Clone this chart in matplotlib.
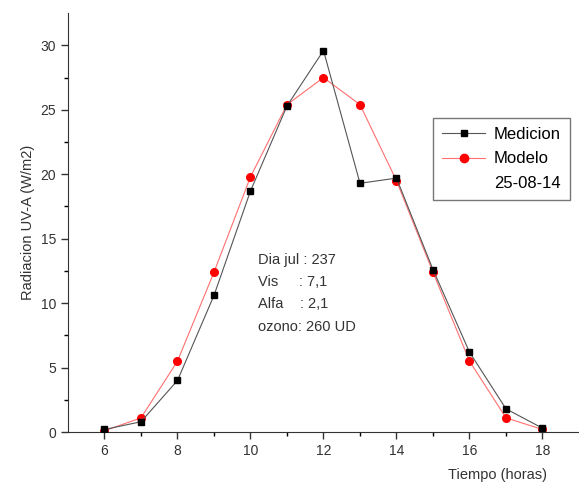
import matplotlib.pyplot as plt
from matplotlib.lines import Line2D

plt.rcParams['font.family'] = ['Liberation Sans', 'DejaVu Sans']

horas = [6, 7, 8, 9, 10, 11, 12, 13, 14, 15, 16, 17, 18]
medicion = [0.2, 0.8, 4.0, 10.6, 18.7, 25.3, 29.6, 19.3, 19.7, 12.6, 6.2, 1.8, 0.3]
modelo = [0.1, 1.1, 5.5, 12.4, 19.8, 25.4, 27.5, 25.4, 19.5, 12.4, 5.5, 1.1, 0.2]

fig = plt.figure(figsize=(5.79, 4.86), dpi=100)
ax = fig.add_axes([0.1174, 0.111, 0.8826, 0.862])

ax.plot(horas, medicion, color='#555555', lw=0.8, marker='s', ms=5,
        mfc='black', mec='black', label='Medicion', zorder=3)
ax.plot(horas, modelo, color='#ff7070', lw=0.8, marker='o', ms=5.5,
        mfc='red', mec='red', label='Modelo', zorder=2)

ax.set_xlim(5, 19)
ax.set_ylim(0, 32.5)
ax.set_xticks([6, 8, 10, 12, 14, 16, 18])
ax.set_xticks([7, 9, 11, 13, 15, 17], minor=True)
ax.set_yticks([0, 5, 10, 15, 20, 25, 30])
ax.set_yticks([2.5, 7.5, 12.5, 17.5, 22.5, 27.5], minor=True)
ax.tick_params(which='major', direction='out', length=5, width=1, labelsize=10, colors='#333333')
ax.tick_params(which='minor', direction='out', length=3, width=1)

ax.spines['top'].set_visible(False)
ax.spines['right'].set_visible(False)
ax.spines['left'].set_color('#333333')
ax.spines['bottom'].set_color('#333333')

ax.set_ylabel('Radiacion UV-A (W/m2)', fontsize=10.5, color='#333333')
ax.set_xlabel('Tiempo (horas)', fontsize=10.5, color='#333333')
ax.xaxis.set_label_coords(0.84, -0.085)

fig.text(258 / 579, 1 - 253 / 486, 'Dia jul : 237\nVis     : 7,1\nAlfa    : 2,1\nozono: 260 UD',
         fontsize=10.5, color='#333333', va='top', ha='left', linespacing=1.75)

handles = [Line2D([], [], color='#555555', lw=0.8, marker='s', ms=5, mfc='black', mec='black'),
           Line2D([], [], color='#ff7070', lw=0.8, marker='o', ms=6, mfc='red', mec='red'),
           Line2D([], [], color='none')]
leg = ax.legend(handles, ['Medicion', 'Modelo', '25-08-14'], loc='upper left',
                bbox_to_anchor=((433 - 68) / 511, (432 - 118) / 419), fontsize=12,
                frameon=True, fancybox=False, edgecolor='#555555', handlelength=2.6,
                borderpad=0.55, labelspacing=0.55, handletextpad=0.5, borderaxespad=0)
leg.get_frame().set_linewidth(1)

fig.savefig('out.png', dpi=100)
